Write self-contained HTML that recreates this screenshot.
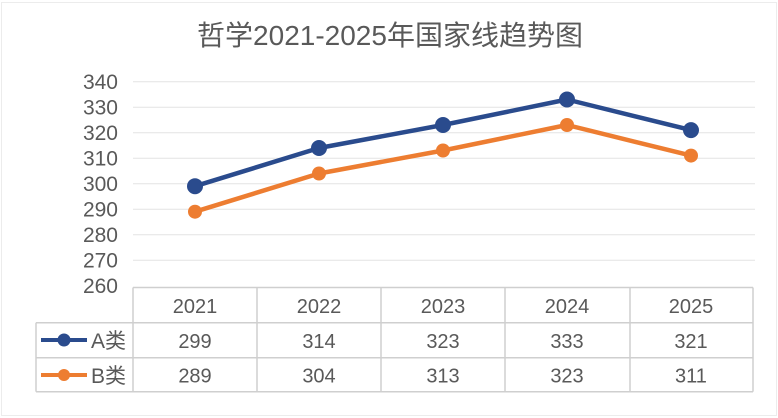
<!DOCTYPE html>
<html><head><meta charset="utf-8"><style>
html,body{margin:0;padding:0;background:#fff;}
svg{display:block;}
text{font-family:"Liberation Sans","Noto Sans CJK SC",sans-serif;fill:#595959;}
</style></head><body>
<svg width="778" height="418" viewBox="0 0 778 418" xmlns="http://www.w3.org/2000/svg">
<rect x="0" y="0" width="778" height="418" fill="#fff"/>
<rect x="1.5" y="2.5" width="775" height="413" fill="none" stroke="#ececec" stroke-width="1"/>
<text x="390" y="45" font-size="28" text-anchor="middle">哲学2021-2025年国家线趋势图</text>
<!-- gridlines -->
<g stroke="#e3e3e3" stroke-width="1">
<line x1="133" x2="755" y1="81.7" y2="81.7"/>
<line x1="133" x2="755" y1="107.2" y2="107.2"/>
<line x1="133" x2="755" y1="132.7" y2="132.7"/>
<line x1="133" x2="755" y1="158.2" y2="158.2"/>
<line x1="133" x2="755" y1="183.7" y2="183.7"/>
<line x1="133" x2="755" y1="209.2" y2="209.2"/>
<line x1="133" x2="755" y1="234.7" y2="234.7"/>
<line x1="133" x2="755" y1="260.2" y2="260.2"/>
</g>
<g font-size="21" text-anchor="end">
<text x="118" y="89">340</text>
<text x="118" y="114.5">330</text>
<text x="118" y="140">320</text>
<text x="118" y="165.5">310</text>
<text x="118" y="191">300</text>
<text x="118" y="216.5">290</text>
<text x="118" y="242">280</text>
<text x="118" y="267.5">270</text>
<text x="118" y="293">260</text>
</g>
<!-- table -->
<g stroke="#cfcfcf" stroke-width="1.5" fill="none">
<line x1="133" x2="753" y1="287.5" y2="287.5"/>
<line x1="36" x2="753" y1="322.7" y2="322.7"/>
<line x1="36" x2="753" y1="357.7" y2="357.7"/>
<line x1="36" x2="753" y1="391.7" y2="391.7"/>
<line x1="36" x2="36" y1="322.7" y2="391.7"/>
<line x1="133" x2="133" y1="287.5" y2="391.7"/>
<line x1="257" x2="257" y1="287.5" y2="391.7"/>
<line x1="381" x2="381" y1="287.5" y2="391.7"/>
<line x1="505" x2="505" y1="287.5" y2="391.7"/>
<line x1="630" x2="630" y1="287.5" y2="391.7"/>
<line x1="753" x2="753" y1="287.5" y2="391.7"/>
</g>
<g font-size="20" text-anchor="middle">
<text x="195" y="313">2021</text>
<text x="319" y="313">2022</text>
<text x="443" y="313">2023</text>
<text x="567" y="313">2024</text>
<text x="691" y="313">2025</text>
<text x="195" y="348">299</text>
<text x="319" y="348">314</text>
<text x="443" y="348">323</text>
<text x="567" y="348">333</text>
<text x="691" y="348">321</text>
<text x="195" y="382.5">289</text>
<text x="319" y="382.5">304</text>
<text x="443" y="382.5">313</text>
<text x="567" y="382.5">323</text>
<text x="691" y="382.5">311</text>
</g>
<!-- legend -->
<line x1="41" x2="87" y1="340" y2="340" stroke="#2A4B8D" stroke-width="4"/>
<circle cx="64" cy="340" r="6.5" fill="#2A4B8D"/>
<text x="91" y="348" font-size="21">A类</text>
<line x1="41" x2="87" y1="375" y2="375" stroke="#ED7D31" stroke-width="4"/>
<circle cx="64" cy="375" r="6" fill="#ED7D31"/>
<text x="91" y="383" font-size="21">B类</text>
<!-- series -->
<polyline points="195,211.7 319,173.5 443,150.5 567,125 691,155.6" fill="none" stroke="#ED7D31" stroke-width="4.5" stroke-linejoin="round"/>
<g fill="#ED7D31">
<circle cx="195" cy="211.7" r="7"/>
<circle cx="319" cy="173.5" r="7"/>
<circle cx="443" cy="150.5" r="7"/>
<circle cx="567" cy="125" r="7"/>
<circle cx="691" cy="155.6" r="7"/>
</g>
<polyline points="195,186.2 319,148 443,125 567,99.5 691,130.1" fill="none" stroke="#2A4B8D" stroke-width="4.5" stroke-linejoin="round"/>
<g fill="#2A4B8D">
<circle cx="195" cy="186.2" r="8"/>
<circle cx="319" cy="148" r="8"/>
<circle cx="443" cy="125" r="8"/>
<circle cx="567" cy="99.5" r="8"/>
<circle cx="691" cy="130.1" r="8"/>
</g>
</svg>
</body></html>
